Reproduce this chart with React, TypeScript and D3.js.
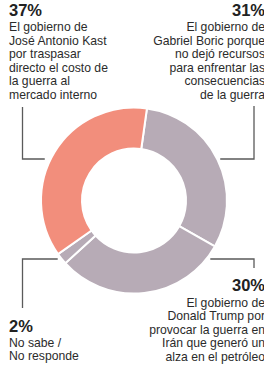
import React from 'react';
import * as d3 from 'd3';

// slices in clockwise order, starting just right of 12 o'clock
const CATEGORIES = ['Boric', 'Trump', 'NoSabe', 'Kast'];
const VALUES = [31, 30, 2, 37];
const COLORS = ['#b7abb6', '#b7abb6', '#b7abb6', '#f28e7c'];

const PERCENTS = ['31%', '30%', '2%', '37%'];
const TEXTS = [
    ['El gobierno de', 'Gabriel Boric porque', 'no dejó recursos', 'para enfrentar las', 'consecuencias', 'de la guerra'],
    ['El gobierno de', 'Donald Trump por', 'provocar la guerra en', 'Irán que generó un', 'alza en el petróleo'],
    ['No sabe /', 'No responde'],
    ['El gobierno de', 'José Antonio Kast', 'por traspasar', 'directo el costo de', 'la guerra al', 'mercado interno'],
];

const W = 264;
const H = 365;
const cx = 134;
const cy = 200.5;
const rOuter = 93;
const rInner = 52;
const startDeg = 8;

export default function App() {
    const pie = d3.pie<number>()
        .sort(null)
        .value(d => d)
        .startAngle((startDeg * Math.PI) / 180)
        .endAngle((startDeg * Math.PI) / 180 + 2 * Math.PI);
    const arcs = pie(VALUES);
    const arc = d3.arc<d3.PieArcDatum<number>>().innerRadius(rInner).outerRadius(rOuter);

    // leader lines: horizontal at a given height, ends a few px off the ring
    const leftX = 22.5;
    const rightX = 254;
    const edge = (y: number) => Math.sqrt(rOuter * rOuter - (y - cy) * (y - cy));
    const upperY = cy - 41.5;
    const lowerY = cy + 58.5;

    const leaders = [
        // Boric (top right)
        `M${cx + edge(upperY) + 3},${upperY}H${rightX}V106`,
        // Trump (bottom right)
        `M${cx + edge(lowerY) + 4},${lowerY}H${rightX}V268`,
        // No sabe (bottom left)
        `M${cx - edge(lowerY) - 4},${lowerY}H${leftX}V308`,
        // Kast (top left)
        `M${cx - edge(upperY) - 6},${upperY}H${leftX}V107`,
    ];

    const blocks = [
        { x: 265, anchor: 'end', pctY: 16, bodyY: 31 },
        { x: 265, anchor: 'end', pctY: 291, bodyY: 306.5 },
        { x: 9, anchor: 'start', pctY: 332, bodyY: 346.5 },
        { x: 9, anchor: 'start', pctY: 16, bodyY: 31 },
    ];

    return (
        <svg width={W} height={H} style={{ position: 'absolute', left: 0, top: 0, background: '#fff' }}
            fontFamily="'Liberation Sans', Arial, sans-serif">
            <g transform={`translate(${cx},${cy})`}>
                {arcs.map((a, i) => (
                    <path key={CATEGORIES[i]} d={arc(a) || ''} fill={COLORS[i]} stroke="#fff" strokeWidth={2} />
                ))}
            </g>
            {leaders.map((d, i) => (
                <path key={i} d={d} fill="none" stroke="#5a5a5a" strokeWidth={1.3} />
            ))}
            {blocks.map((b, i) => (
                <g key={CATEGORIES[i]} textAnchor={b.anchor}>
                    <text x={b.x} y={b.pctY} fontSize={16.5} fontWeight="bold" fill="#222">{PERCENTS[i]}</text>
                    {TEXTS[i].map((line, j) => (
                        <text key={j} x={b.x} y={b.bodyY + j * 13.5} fontSize={12.2} fill="#2b2b2b">{line}</text>
                    ))}
                </g>
            ))}
        </svg>
    );
}
